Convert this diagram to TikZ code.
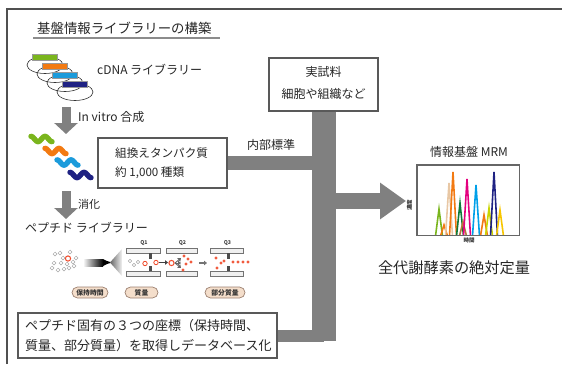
\documentclass[tikz,border=0pt]{standalone}
\usepackage{fontspec}
\setmainfont{Noto Sans CJK JP}
\usetikzlibrary{arrows.meta,shapes.misc}

\definecolor{conn}{HTML}{808080}
\definecolor{edge}{HTML}{595959}
\definecolor{frame}{HTML}{505050}
\definecolor{cgreen}{HTML}{7AB51D}
\definecolor{corange}{HTML}{F27A12}
\definecolor{cblue}{HTML}{1C9BDB}
\definecolor{cnavy}{HTML}{1F2283}
\definecolor{cdkgreen}{HTML}{0E7A3A}
\definecolor{cbeige}{HTML}{E8C7A4}
\definecolor{cbrown}{HTML}{B5793A}
\definecolor{cmagenta}{HTML}{E4007F}
\definecolor{csky}{HTML}{00A0E9}
\definecolor{clime}{HTML}{C9D400}
\definecolor{cyellow}{HTML}{F7C600}
\definecolor{pillfill}{HTML}{F4DECB}
\definecolor{pilledge}{HTML}{9C8070}
\definecolor{ionred}{HTML}{F04A2A}
\definecolor{iongray}{HTML}{A8A8A8}

\newcommand{\jsize}[1]{\fontsize{#1}{#1}\selectfont}

\begin{document}
\begin{tikzpicture}[x=1pt,y=-1pt,
  txt/.style={inner sep=0pt, anchor=west, text=black!85},
  infobox/.style={draw=edge, line width=1.1pt, fill=white, inner sep=0pt},
  band/.style={draw=conn, line cap=butt},
  downarrow/.style={draw=conn, line width=9pt, -{Triangle[length=11pt,width=23pt]}},
  pill/.style={rounded rectangle, draw=pilledge, line width=0.7pt, fill=pillfill,
    minimum width=#1, minimum height=11pt, inner sep=0pt, font=\jsize{6.8}\bfseries, text=black!80},
  squiggle/.style={line width=5.4pt, line cap=round},
  plasmid/.style={draw=black!80, line width=0.6pt},
  gene/.style={draw=black!40, line width=0.4pt},
  quadbar/.style={draw=black!55, fill=black!6, line width=0.6pt},
  stub/.style={fill=black!70},
  grayion/.style={draw=iongray, fill=white, line width=0.5pt},
  redion/.style={draw=ionred, fill=white, line width=0.8pt},
  peak/.style={line width=1.6pt, line join=miter},
  ionarrow/.style={line width=1.4pt, -{Triangle[length=3pt,width=4.5pt]}}]

\useasboundingbox (0,0) rectangle (562,364);

% outer frame (top and left edges)
\draw[frame, line width=1.6pt] (7,364) -- (7,9) -- (562,9);

% section title
\node[txt, font=\jsize{13.4}] (title) at (37,28) {基盤情報ライブラリーの構築};
\draw[black!45, line width=1.6pt] (33,38) -- (220,38);

% cDNA library: plasmids with inserts
\foreach \cx/\cy/\col in {45/65/cgreen, 55/74/corange, 65/83/cblue, 75/92/cnavy}{
  \draw[plasmid] (\cx,\cy) ellipse (18pt and 8.5pt);
}
\foreach \cx/\cy/\col in {45/65/cgreen, 55/74/corange, 65/83/cblue, 75/92/cnavy}{
  \draw[gene, fill=\col] (\cx-12.5,\cy-11) rectangle (\cx+12.5,\cy-5);
}
\node[txt, font=\jsize{12}] (cdna) at (97,70) {cDNA ライブラリー};

% in vitro synthesis
\coordinate (a1s) at (66,107);
\coordinate (a1e) at (66,134);
\draw[downarrow] (a1s) -- (a1e);
\node[txt, font=\jsize{12}] (invitro) at (78,117) {In vitro 合成};

% expressed proteins
\foreach \px/\py/\col in {31/139/cgreen, 45/151/corange, 57/162.5/cblue, 70/175/cnavy}{
  \draw[squiggle, \col] plot[domain=0:21, samples=40, smooth] (\px+\x, {\py - 2.6*cos(\x*360/14)});
}

% recombinant protein box
\node[infobox, minimum width=129pt, minimum height=50pt] (recomb) at (162.5,163) {};
\node[txt, font=\jsize{11.6}] (recombA) at (115,153) {組換えタンパク質};
\node[txt, font=\jsize{11.6}] (recombB) at (115,173) {約 1,000 種類};

% digestion
\coordinate (a2s) at (66,191);
\coordinate (a2e) at (66,219);
\draw[downarrow] (a2s) -- (a2e);
\node[txt, font=\jsize{11}] (digest) at (78,204) {消化};

\node[txt, font=\jsize{12}] (peplib) at (25,228) {ペプチド ライブラリー};

% peptide mixture
\foreach \ix/\iy in {55/254, 60/253, 70/252, 63/258, 54/263, 61/263, 67/264, 73/262,
                     58/270, 64/269, 69/268, 74/266, 76/258, 52/268}{
  \draw[grayion] (\ix,\iy) circle (1.9pt);
}
\draw[redion, line width=1pt] (68,258.5) circle (2.6pt);

% LC emitter and spray
\shade[left color=white, right color=black] (83,259) rectangle (103,266);
\fill[black] (103,259) -- (107,261) -- (112,262.5) -- (107,264) -- (103,266) -- cycle;
\shade[left color=black!60, right color=black!5] (110,262.5) -- (122,249) -- (122,276) -- cycle;

% quadrupoles Q1, Q2, Q3
\foreach \qa/\qb/\qn in {126/160/Q1, 166/197/Q2, 210/243/Q3}{
  \draw[quadbar] (\qa,248) rectangle (\qb,253);
  \draw[quadbar] (\qa,271) rectangle (\qb,276);
  \node[inner sep=0pt, font=\jsize{5.2}\bfseries, text=black!75] (lbl\qn) at ({(\qa+\qb)/2+1},243.5) {\qn};
}
\fill[stub] (149,253) rectangle (152,259);
\fill[stub] (149,266) rectangle (152,271);
\fill[stub] (227,253) rectangle (230,259);
\fill[stub] (227,266) rectangle (230,271);

% ions in Q1
\foreach \ix/\iy in {130/261, 134/265, 138/262}{
  \draw[grayion] (\ix,\iy) circle (1.7pt);
}
\draw[redion] (145,263.5) circle (2.2pt);
\draw[redion] (156,262.5) circle (2.2pt);
\draw[ionarrow, black!75] (159,262.5) -- (168,262.5);

% fragmentation in Q2
\draw[redion, line width=1pt] (171.5,263) circle (2.6pt);
\draw[ionarrow, black!60, line width=0.9pt] (175,263) -- (181,258);
\draw[ionarrow, black!60, line width=0.9pt] (175,263) -- (181,263);
\draw[ionarrow, black!60, line width=0.9pt] (175,263) -- (181,268);
\foreach \ix/\iy in {184/256, 188/259, 186/264, 183/270, 191/262}{
  \draw[redion, line width=0.6pt] (\ix,\iy) circle (1.1pt);
}
\draw[ionarrow, black!55] (199,263) -- (207,263);

% product ions in Q3
\foreach \ix/\iy in {216/258, 221/263, 217/268, 224/261, 233/262, 238/262, 243/262, 248/262}{
  \draw[redion, line width=0.6pt] (\ix,\iy) circle (1.1pt);
}

% measured coordinates
\node[pill=36pt] (rt) at (90,292.5) {保持時間};
\node[pill=33pt] (mass) at (141.5,292.5) {質量};
\node[pill=40pt] (frag) at (225,292.5) {部分質量};

% database box
\node[infobox, minimum width=259pt, minimum height=45pt] (dbase) at (147.5,335.5) {};
\node[txt, font=\jsize{13}] (dbaseA) at (25,326) {ペプチド固有の３つの座標（保持時間、};
\node[txt, font=\jsize{13}] (dbaseB) at (25,346) {質量、部分質量）を取得しデータベース化};

% real sample box
\node[infobox, minimum width=109pt, minimum height=53pt] (sample) at (323.5,84.5) {};
\node[inner sep=0pt, font=\jsize{12}, text=black!85] (sampleA) at (323.5,72) {実試料};
\node[inner sep=0pt, font=\jsize{12}, text=black!85] (sampleB) at (323.5,94) {細胞や組織など};

% merging connector
\coordinate (trunkend) at (sample.south |- 0,341);
\coordinate (joinR) at (sample.south |- recomb.east);
\coordinate (joinD) at (sample.south |- dbase.east);
\coordinate (joinM) at (sample.south |- 0,201);
\coordinate (tip) at (406,201);
\draw[band, line width=14pt] (recomb.east) -- (joinR);
\draw[band, line width=12pt] (dbase.east) -- (joinD);
\draw[band, line width=24pt] (sample.south) -- (trunkend);
\draw[band, line width=16pt, -{Triangle[length=26pt,width=35pt]}] (joinM) -- (tip);
\node[txt, font=\jsize{12}] (istd) at (247,145) {内部標準};

% MRM chromatogram
\node[inner sep=0pt, font=\jsize{12}, text=black!85] (mrmtitle) at (469,152) {情報基盤 MRM};
\node[draw=black!60, line width=1pt, minimum width=102pt, minimum height=70pt, inner sep=0pt] (chart) at (468,200) {};
\node[inner sep=0pt, font=\jsize{5.5}\bfseries, rotate=90, text=black!80] (yaxis) at (409.5,205) {濃度};
\node[inner sep=0pt, font=\jsize{5.5}\bfseries, text=black!80] (xaxis) at (469,240.5) {時間};
\begin{scope}
  \clip (chart.north west) rectangle (chart.south east);
  \foreach \pxp/\ptop/\col in {439/209/cgreen, 444/225/corange, 449/183/cbeige, 453/172/corange,
      460/203/cdkgreen, 463/222/cbrown, 467/179/cmagenta, 476/185/csky,
      484/215/corange, 489/208/clime, 494/172/cnavy, 500/210/cyellow}{
    \draw[peak, \col] (\pxp-3.5,236) -- (\pxp,\ptop) -- (\pxp+3.5,236);
  }
\end{scope}
\draw[black!60, line width=1pt] (chart.north west) rectangle (chart.south east);

\node[inner sep=0pt, font=\jsize{15.2}, text=black!85] (result) at (454,268) {全代謝酵素の絶対定量};

\end{tikzpicture}
\end{document}
